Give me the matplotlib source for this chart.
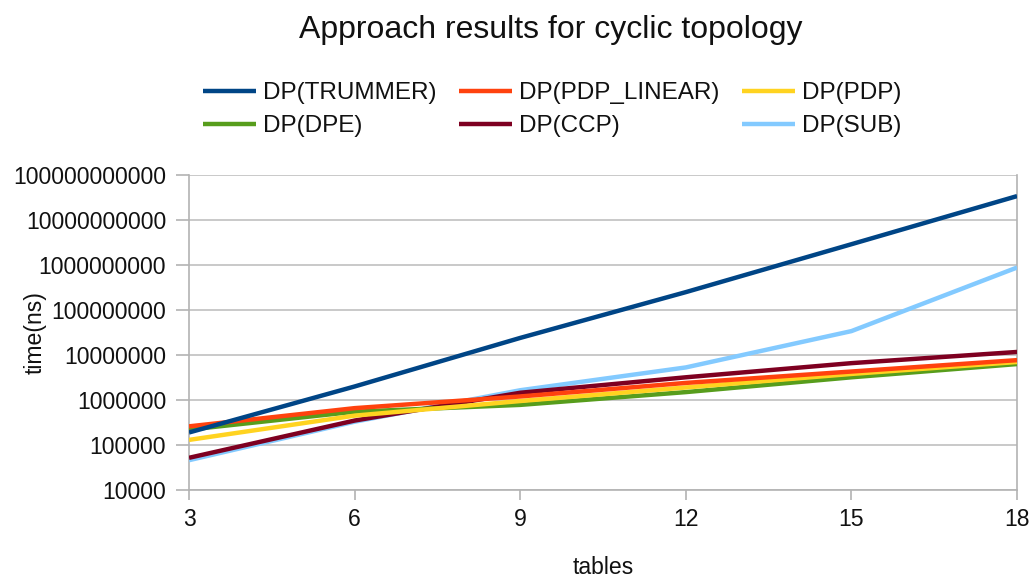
import matplotlib
matplotlib.use('Agg')
import matplotlib.pyplot as plt
from matplotlib.ticker import FixedLocator, FuncFormatter, NullLocator

plt.rcParams['font.family'] = ['Liberation Sans', 'DejaVu Sans']

tables = [3, 6, 9, 12, 15, 18]

trummer = [1.9e5, 2.0e6, 2.4e7, 2.5e8, 2.9e9, 3.4e10]
pdp_linear = [2.6e5, 6.6e5, 1.2e6, 2.4e6, 4.3e6, 7.7e6]
pdp = [1.3e5, 4.5e5, 9.5e5, 1.9e6, 3.8e6, 7.0e6]
dpe = [2.2e5, 5.5e5, 7.8e5, 1.5e6, 3.2e6, 6.3e6]
ccp = [5.2e4, 3.5e5, 1.45e6, 3.2e6, 6.6e6, 1.17e7]
sub = [4.6e4, 3.3e5, 1.65e6, 5.3e6, 3.4e7, 8.8e8]

series = [
    ('DP(TRUMMER)', trummer, '#004586'),
    ('DP(PDP_LINEAR)', pdp_linear, '#ff420e'),
    ('DP(PDP)', pdp, '#ffd320'),
    ('DP(DPE)', dpe, '#579d1c'),
    ('DP(CCP)', ccp, '#7e0021'),
    ('DP(SUB)', sub, '#83caff'),
]

y_ticks = [1e4, 1e5, 1e6, 1e7, 1e8, 1e9, 1e10, 1e11]

txt = '#111111'

fig = plt.figure(figsize=(10.34, 5.78), dpi=100)
ax = fig.add_axes([0.1828, 0.1522, 0.8008, 0.545])

lines = {}
for i, (name, vals, col) in enumerate(series):
    ln, = ax.plot(tables, vals, color=col, lw=3.2, label=name,
                  zorder=10 - i, solid_capstyle='butt')
    lines[name] = ln

ax.set_yscale('log')
ax.set_xlim(3, 18)
ax.set_ylim(1e4, 1e11)
ax.set_xticks(tables)
ax.yaxis.set_major_locator(FixedLocator(y_ticks))
ax.yaxis.set_major_formatter(FuncFormatter(lambda v, p: f'{int(round(v))}'))
ax.yaxis.set_minor_locator(NullLocator())
ax.grid(axis='y', color='#c0c0c0', lw=1.2)
ax.set_axisbelow(True)
for s in ['left', 'right', 'bottom']:
    ax.spines[s].set_color('#b3b3b3')
    ax.spines[s].set_linewidth(1.2)
ax.spines['top'].set_visible(False)
ax.tick_params(axis='both', colors='#b3b3b3', width=1.2,
               labelsize=16.6, labelcolor=txt)
ax.tick_params(axis='x', length=7, pad=6)
ax.tick_params(axis='y', length=9.5, pad=7)

ax.set_xlabel('tables', fontsize=16.6, color=txt)
ax.set_ylabel('time(ns)', fontsize=16.6, color=txt)
ax.xaxis.set_label_coords(0.5, -0.247)
ax.yaxis.set_label_coords(-0.186, 0.5)
ax.xaxis.label.set_va('center')
ax.yaxis.label.set_va('center')

fig.text(0.533, 0.948, 'Approach results for cyclic topology', fontsize=23,
         color=txt, ha='center', va='center')

# legend filled column by column, so interleave the two rows
order = ['DP(TRUMMER)', 'DP(DPE)', 'DP(PDP_LINEAR)', 'DP(CCP)', 'DP(PDP)', 'DP(SUB)']
fig.legend([lines[n] for n in order], order, ncol=3, loc='center',
           bbox_to_anchor=(0.534, 0.81), frameon=False, fontsize=17.5,
           handlelength=2.2, handletextpad=0.3, columnspacing=0.9,
           labelspacing=0.46, labelcolor=txt)

fig.savefig('out.png', dpi=100)
